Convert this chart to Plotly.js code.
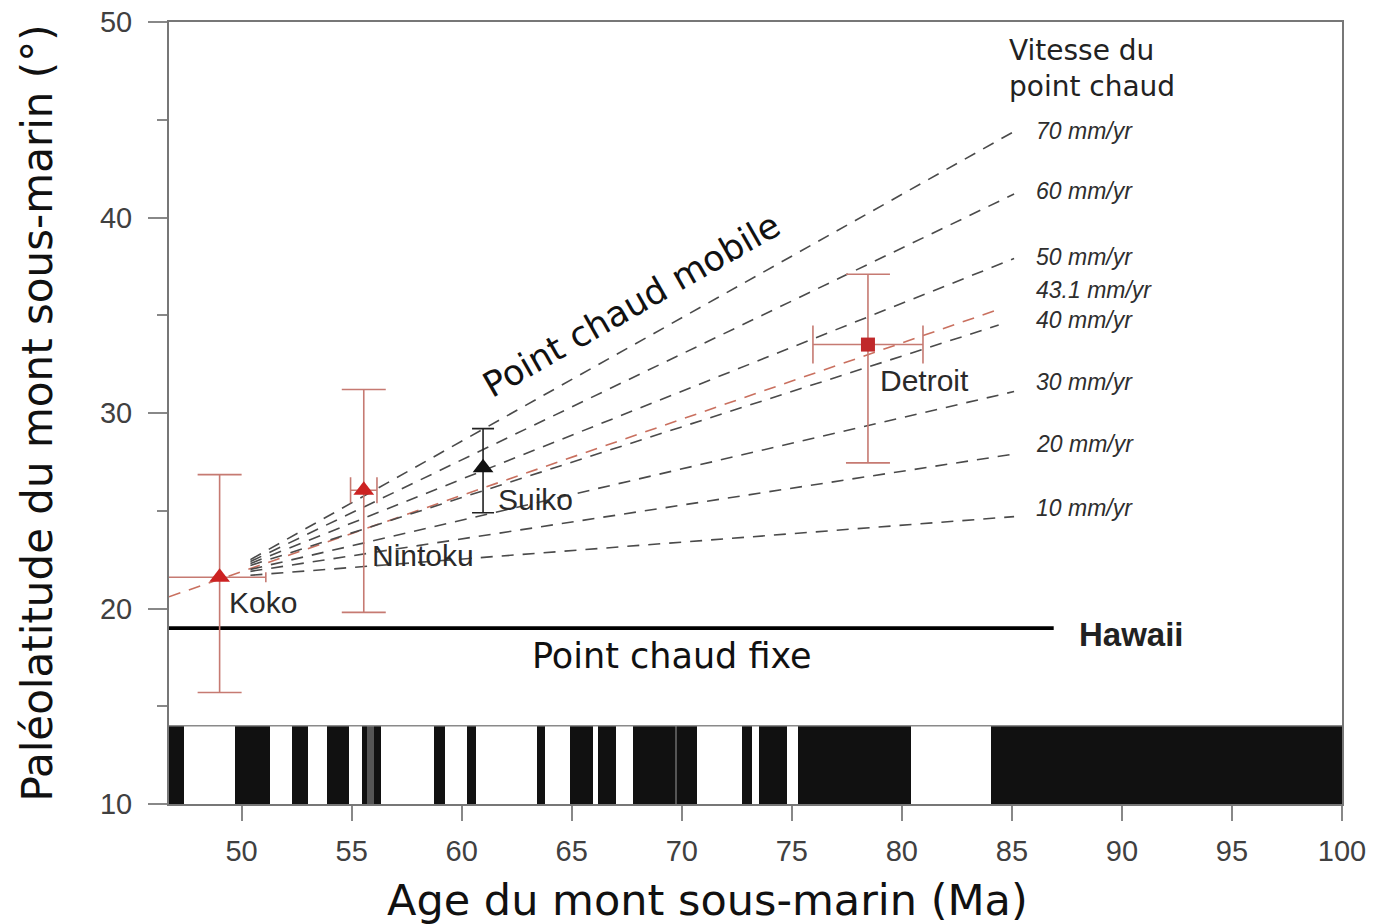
<!DOCTYPE html>
<html>
<head>
<meta charset="utf-8">
<script src="https://cdn.plot.ly/plotly-3.0.1.min.js"></script>
<style>html,body{margin:0;padding:0;background:#fff;}#chart{width:1387px;height:924px;}</style>
</head>
<body>
<div id="chart"></div>
<script>
// ---- Data ----
// Magnetic polarity chrons (normal polarity = black), ages in Ma
const chronStart = [46.7, 49.7, 52.3, 53.9, 55.45, 58.75, 60.25, 63.4, 64.9, 66.2, 67.8, 72.75, 73.5, 75.3, 84.05];
const chronEnd   = [47.4, 51.3, 53.0, 54.9, 56.35, 59.25, 60.65, 63.8, 65.95, 67.0, 70.7, 73.2, 74.8, 80.4, 100];
const stripeStart = [55.7, 69.7];
const stripeEnd   = [56.0, 69.8];

// Seamounts
const seamountNames = ['Koko', 'Nintoku', 'Suiko', 'Detroit'];
const seamountAge   = [49.0, 55.55, 60.97, 78.46];
const seamountLat   = [21.6, 26.05, 27.2, 33.5];
const latErrPlus    = [5.25, 5.15, 2.0, 3.6];
const latErrMinus   = [5.9, 6.25, 2.3, 6.05];
const ageErrPlus    = [2.1, 0.6, 0, 2.5];
const ageErrMinus   = [2.6, 0.6, 0, 2.5];

// Hotspot drift lines
const speedLabels  = ['70 mm/yr', '60 mm/yr', '50 mm/yr', '43.1 mm/yr', '40 mm/yr', '30 mm/yr', '20 mm/yr', '10 mm/yr'];
const lineStartAge = [50.4, 50.4, 50.4, 46.7, 50.4, 50.4, 50.4, 50.4];
const lineStartLat = [22.5, 22.4, 22.3, 20.6, 22.2, 22.0, 21.9, 21.7];
const lineEndAge   = [85.1, 85.1, 85.1, 84.4, 84.4, 85.1, 85.1, 85.1];
const lineEndLat   = [44.4, 41.2, 37.9, 35.3, 34.5, 31.1, 27.9, 24.7];

// Fixed hotspot (Hawaii present latitude)
const hawaiiLat = 19.0;
const hawaiiAgeRange = [46.7, 86.9];

// ---- Styles ----
const labelShift = [0, 3, 2, 19, 5, 10, 10, 9];
const errColor = '#c67a72';
const traces = [];

// polarity band
traces.push({
  type: 'bar',
  x: chronStart.map((s, i) => (s + chronEnd[i]) / 2),
  width: chronStart.map((s, i) => chronEnd[i] - s),
  y: chronStart.map(() => 4),
  base: 10,
  marker: {color: '#111111', line: {width: 0}},
  hoverinfo: 'skip', showlegend: false
});
traces.push({
  type: 'bar',
  x: stripeStart.map((s, i) => (s + stripeEnd[i]) / 2),
  width: stripeStart.map((s, i) => stripeEnd[i] - s),
  y: stripeStart.map(() => 4),
  base: 10,
  marker: {color: '#555555', line: {width: 0}},
  hoverinfo: 'skip', showlegend: false
});
traces.push({
  type: 'scatter', mode: 'lines',
  x: [46.7, 100], y: [14, 14],
  line: {color: '#8a8a8a', width: 1.5},
  hoverinfo: 'skip', showlegend: false
});

// drift lines
speedLabels.forEach((lab, i) => {
  traces.push({
    type: 'scatter', mode: 'lines',
    x: [lineStartAge[i], lineEndAge[i]],
    y: [lineStartLat[i], lineEndLat[i]],
    line: {color: lab.startsWith('43.1') ? '#c9705f' : '#4a4a4a', width: 1.6, dash: '12px,9px'},
    hoverinfo: 'skip', showlegend: false
  });
});

// Hawaii fixed line
traces.push({
  type: 'scatter', mode: 'lines',
  x: hawaiiAgeRange, y: [hawaiiLat, hawaiiLat],
  line: {color: '#000000', width: 3.8},
  hoverinfo: 'skip', showlegend: false
});

// seamounts
const capY = [22, 22, 11, 22];
const capX = [5, 13, 0, 19];
const symbols = ['triangle-up', 'triangle-up', 'triangle-up', 'square'];
const mColors = ['#cc2222', '#cc2222', '#111111', '#c0282a'];
const eColors = [errColor, errColor, '#222222', errColor];
seamountNames.forEach((n, i) => {
  traces.push({
    type: 'scatter', mode: 'markers',
    x: [seamountAge[i]], y: [seamountLat[i]],
    marker: {symbol: symbols[i], size: i === 3 ? 14 : 18, color: mColors[i]},
    error_y: {type: 'data', symmetric: false, array: [latErrPlus[i]], arrayminus: [latErrMinus[i]],
              color: eColors[i], thickness: 1.6, width: capY[i]},
    error_x: {type: 'data', symmetric: false, array: [ageErrPlus[i]], arrayminus: [ageErrMinus[i]],
              visible: ageErrPlus[i] > 0, color: eColors[i], thickness: 1.6, width: capX[i]},
    name: n, showlegend: false
  });
});

// ---- Annotations ----
const ann = [];
const nameOffsets = [[0.35, -1.3], [0.27, -3.35], [0.58, -1.6], [0.44, -1.86]];
seamountNames.forEach((n, i) => {
  ann.push({x: seamountAge[i] + nameOffsets[i][0], y: seamountLat[i] + nameOffsets[i][1], xref: 'x', yref: 'y',
    text: n, showarrow: false, xanchor: 'left', yanchor: 'middle',
    font: {family: 'Liberation Sans, Arial, sans-serif', size: 30, color: '#2a2a2a'}});
});
speedLabels.forEach((lab, i) => {
  ann.push({x: 86.0, y: lineEndLat[i], xref: 'x', yref: 'y', yshift: labelShift[i],
    text: lab, showarrow: false, xanchor: 'left', yanchor: 'middle',
    font: {family: 'Liberation Sans, Arial, sans-serif', size: 23, style: 'italic', color: '#2e2e2e'}});
});
ann.push({x: 84.8, y: 49.5, xref: 'x', yref: 'y', text: 'Vitesse du<br>point chaud', showarrow: false,
  xanchor: 'left', yanchor: 'top', align: 'left',
  font: {family: 'DejaVu Sans, sans-serif', size: 28, color: '#222222'}});
ann.push({x: 87.98, y: hawaiiLat, xref: 'x', yref: 'y', yshift: -6, text: 'Hawaii', showarrow: false,
  xanchor: 'left', yanchor: 'middle',
  font: {family: 'Liberation Sans, Arial, sans-serif', size: 33, weight: 'bold', color: '#222222'}});
ann.push({x: 69.55, y: 17.57, xref: 'x', yref: 'y', text: 'Point chaud fixe', showarrow: false,
  xanchor: 'center', yanchor: 'middle',
  font: {family: 'DejaVu Sans, sans-serif', size: 35, color: '#111111'}});
ann.push({x: 67.73, y: 35.52, xref: 'x', yref: 'y', text: 'Point chaud mobile', showarrow: false,
  xanchor: 'center', yanchor: 'middle', textangle: -29.7,
  font: {family: 'DejaVu Sans, sans-serif', size: 35, color: '#111111'}});
// x-axis title (off-centre in the reference)
ann.push({x: (707 - 169) / 1173, y: -(900 - 804) / 782, xref: 'paper', yref: 'paper',
  text: 'Age du mont sous-marin (Ma)', showarrow: false, xanchor: 'center', yanchor: 'middle',
  font: {family: 'DejaVu Sans, sans-serif', size: 43, color: '#111111'}});

const tickFont = {family: 'Liberation Sans, Arial, sans-serif', size: 29, color: '#404040'};
const layout = {
  width: 1387, height: 924,
  margin: {l: 169, r: 45, t: 22, b: 120},
  paper_bgcolor: '#ffffff', plot_bgcolor: '#ffffff',
  barmode: 'overlay', bargap: 0,
  showlegend: false,
  xaxis: {
    range: [46.7, 100], tick0: 0, dtick: 5, ticks: 'outside', ticklen: 15, tickwidth: 2, tickcolor: '#888888',
    showline: true, linecolor: '#777777', linewidth: 2, mirror: true, showgrid: false, zeroline: false,
    tickfont: tickFont, ticklabelstandoff: 5, automargin: false
  },
  yaxis: {
    range: [10, 50], tick0: 0, dtick: 10, ticks: 'outside', ticklen: 19, tickwidth: 2, tickcolor: '#888888',
    minor: {dtick: 5, ticks: 'outside', ticklen: 10, tickwidth: 2, tickcolor: '#888888', showgrid: false},
    showline: true, linecolor: '#777777', linewidth: 2, mirror: true, showgrid: false, zeroline: false,
    tickfont: tickFont, ticklabelstandoff: 10, automargin: false,
    title: {text: 'Paléolatitude du mont sous-marin (°)', font: {family: 'DejaVu Sans, sans-serif', size: 42, color: '#111111'}, standoff: 34}
  },
  annotations: ann
};

Plotly.newPlot('chart', traces, layout, {displayModeBar: false, staticPlot: true});
</script>
</body>
</html>
